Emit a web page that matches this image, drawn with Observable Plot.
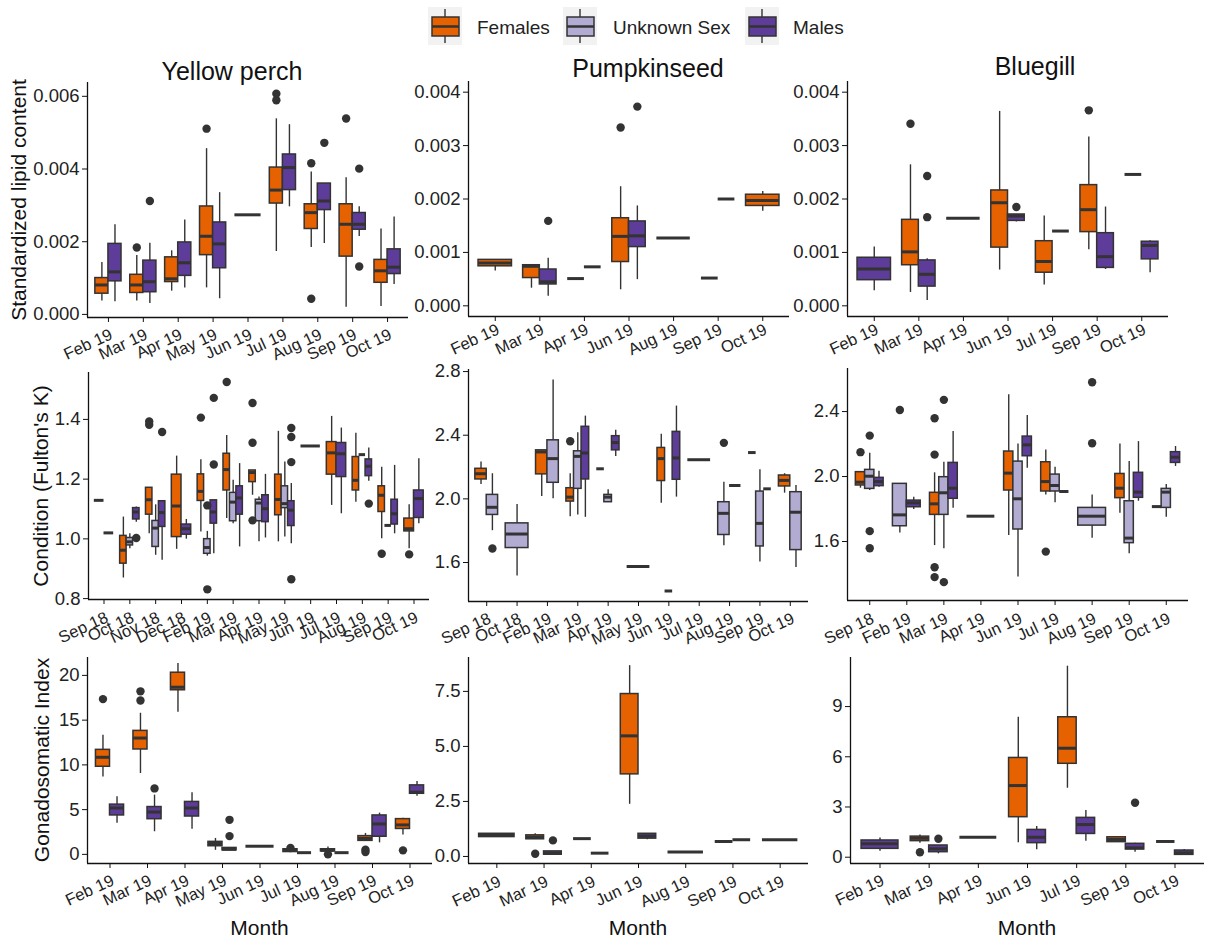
<!DOCTYPE html>
<html><head><meta charset="utf-8">
<script src="https://cdn.jsdelivr.net/npm/d3@7"></script>
<script src="https://cdn.jsdelivr.net/npm/@observablehq/plot@0.6"></script>
<style>
body{margin:0;background:#fff;}
#root{position:relative;width:1207px;height:939px;font-family:"Liberation Sans",Arial,sans-serif;color:#222;overflow:hidden;background:#fff;}
.abs{position:absolute;white-space:nowrap;line-height:1;}
.c{transform:translate(-50%,-50%);}
.rot{transform:translate(-50%,-50%) rotate(-90deg);}
.panel{position:absolute;}
</style></head><body><div id="root"></div>
<script>
// ---------------- data ----------------
const sexes = ["F","U","M"];
const sexLabels = ["Females","Unknown Sex","Males"];
const sexColors = ["#E66100","#B2ABD2","#5E3C99"];
const species = ["Yellow perch","Pumpkinseed","Bluegill"];
const rowLabels = ["Standardized lipid content","Condition (Fulton's K)","Gonadosomatic Index"];
const xLabel = "Month";

// box stats: [month, sex, lowerWhisker, q1, median, q3, upperWhisker, outliers]
const ypLipidMonths = ["Feb 19","Mar 19","Apr 19","May 19","Jun 19","Jul 19","Aug 19","Sep 19","Oct 19"];
const ypLipid = [
  ["Feb 19","F",0.00037,0.00057,0.00081,0.00100,0.00143,[]],
  ["Feb 19","M",0.00035,0.00091,0.00117,0.00194,0.00247,[]],
  ["Mar 19","F",0.00037,0.00059,0.00081,0.00109,0.00162,[0.00184]],
  ["Mar 19","M",0.00030,0.00061,0.00090,0.00148,0.00196,[0.00312]],
  ["Apr 19","F",0.00064,0.00089,0.00098,0.00157,0.00175,[]],
  ["Apr 19","M",0.00073,0.00106,0.00142,0.00198,0.00260,[]],
  ["May 19","F",0.00073,0.00163,0.00215,0.00297,0.00456,[0.00511]],
  ["May 19","M",0.00043,0.00127,0.00194,0.00253,0.00335,[]],
  ["Jun 19","F",0.00274,0.00274,0.00274,0.00274,0.00274,[]],
  ["Jul 19","F",0.00173,0.00305,0.00342,0.00404,0.00538,[0.00607,0.00589]],
  ["Jul 19","M",0.00296,0.00342,0.00404,0.00440,0.00522,[]],
  ["Aug 19","F",0.00184,0.00235,0.00280,0.00303,0.00392,[0.00416,0.00043]],
  ["Aug 19","M",0.00195,0.00287,0.00312,0.00360,0.00360,[0.00472]],
  ["Sep 19","F",0.00020,0.00159,0.00248,0.00303,0.00376,[0.00539]],
  ["Sep 19","M",0.00214,0.00233,0.00248,0.00279,0.00296,[0.00401,0.00132]],
  ["Oct 19","F",0.00022,0.00087,0.00120,0.00150,0.00235,[]],
  ["Oct 19","M",0.00082,0.00111,0.00130,0.00179,0.00268,[]]
];
const psLipidMonths = ["Feb 19","Mar 19","Apr 19","Jun 19","Aug 19","Sep 19","Oct 19"];
const psLipid = [
  ["Feb 19","F",0.00065,0.00074,0.00080,0.00086,0.00086,[]],
  ["Mar 19","F",0.00033,0.00052,0.00074,0.00076,0.00076,[]],
  ["Mar 19","M",0.00018,0.00040,0.00045,0.00068,0.00089,[0.00159]],
  ["Apr 19","F",0.00051,0.00051,0.00051,0.00051,0.00051,[]],
  ["Apr 19","M",0.00073,0.00073,0.00073,0.00073,0.00073,[]],
  ["Jun 19","F",0.00030,0.00082,0.00130,0.00164,0.00223,[0.00334]],
  ["Jun 19","M",0.00049,0.00110,0.00131,0.00158,0.00187,[0.00373]],
  ["Aug 19","F",0.00127,0.00127,0.00127,0.00127,0.00127,[]],
  ["Sep 19","F",0.00052,0.00052,0.00052,0.00052,0.00052,[]],
  ["Sep 19","M",0.00200,0.00200,0.00200,0.00200,0.00200,[]],
  ["Oct 19","F",0.00177,0.00187,0.00197,0.00208,0.00214,[]]
];
const bgLipidMonths = ["Feb 19","Mar 19","Apr 19","Jun 19","Jul 19","Sep 19","Oct 19"];
const bgLipid = [
  ["Feb 19","M",0.00028,0.00048,0.00069,0.00090,0.00110,[]],
  ["Mar 19","F",0.00025,0.00076,0.00101,0.00161,0.00264,[0.00341]],
  ["Mar 19","M",0.00010,0.00036,0.00059,0.00085,0.00088,[0.00243,0.00166]],
  ["Apr 19","F",0.00164,0.00164,0.00164,0.00164,0.00164,[]],
  ["Jun 19","F",0.00067,0.00109,0.00193,0.00216,0.00364,[]],
  ["Jun 19","M",0.00157,0.00159,0.00168,0.00171,0.00171,[0.00185]],
  ["Jul 19","F",0.00039,0.00062,0.00083,0.00121,0.00168,[]],
  ["Jul 19","M",0.00140,0.00140,0.00140,0.00140,0.00140,[]],
  ["Sep 19","F",0.00105,0.00138,0.00180,0.00226,0.00316,[0.00366]],
  ["Sep 19","M",0.00068,0.00071,0.00092,0.00136,0.00185,[]],
  ["Oct 19","F",0.00246,0.00246,0.00246,0.00246,0.00246,[]],
  ["Oct 19","M",0.00062,0.00087,0.00113,0.00120,0.00122,[]]
];
const ypCondMonths = ["Sep 18","Oct 18","Nov 18","Dec 18","Feb 19","Mar 19","Apr 19","May 19","Jun 19","Jul 19","Aug 19","Sep 19","Oct 19"];
const ypCond = [
  ["Sep 18","F",1.129,1.129,1.129,1.129,1.129,[]],
  ["Sep 18","M",1.020,1.020,1.020,1.020,1.020,[]],
  ["Oct 18","F",0.869,0.917,0.962,1.010,1.073,[]],
  ["Oct 18","U",0.967,0.978,0.990,1.003,1.017,[]],
  ["Oct 18","M",1.056,1.065,1.090,1.103,1.107,[1.003]],
  ["Nov 18","F",1.017,1.081,1.131,1.171,1.171,[1.393,1.382]],
  ["Nov 18","U",0.945,0.973,1.036,1.060,1.114,[]],
  ["Nov 18","M",0.928,1.040,1.088,1.126,1.126,[1.358]],
  ["Dec 18","F",0.965,1.006,1.110,1.215,1.277,[]],
  ["Dec 18","M",0.999,1.014,1.034,1.048,1.065,[]],
  ["Feb 19","F",1.023,1.127,1.159,1.216,1.265,[1.406]],
  ["Feb 19","U",0.942,0.950,0.971,0.999,1.025,[1.112,0.831]],
  ["Feb 19","M",0.950,1.051,1.090,1.129,1.129,[1.249,1.472]],
  ["Mar 19","F",1.068,1.162,1.232,1.285,1.346,[1.525]],
  ["Mar 19","U",1.051,1.059,1.123,1.154,1.196,[]],
  ["Mar 19","M",0.973,1.081,1.137,1.176,1.252,[]],
  ["Apr 19","F",1.146,1.190,1.222,1.229,1.229,[1.455,1.322,1.062]],
  ["Apr 19","U",0.990,1.059,1.120,1.131,1.140,[]],
  ["Apr 19","M",1.003,1.056,1.101,1.146,1.216,[]],
  ["May 19","F",0.990,1.079,1.132,1.215,1.360,[]],
  ["May 19","U",1.006,1.103,1.118,1.176,1.257,[]],
  ["May 19","M",0.984,1.043,1.096,1.126,1.185,[1.371,1.341,1.257,0.865]],
  ["Jun 19","F",1.311,1.311,1.311,1.311,1.311,[]],
  ["Jul 19","F",1.112,1.215,1.288,1.324,1.410,[]],
  ["Jul 19","M",1.084,1.207,1.285,1.321,1.371,[]],
  ["Aug 19","F",1.123,1.162,1.196,1.274,1.354,[]],
  ["Aug 19","U",1.282,1.282,1.282,1.282,1.282,[]],
  ["Aug 19","M",1.193,1.210,1.243,1.266,1.304,[1.118]],
  ["Sep 19","F",1.000,1.090,1.146,1.176,1.240,[0.950]],
  ["Sep 19","U",1.045,1.045,1.045,1.045,1.045,[]],
  ["Sep 19","M",1.017,1.048,1.084,1.131,1.246,[]],
  ["Oct 19","F",0.967,1.025,1.034,1.068,1.114,[0.948]],
  ["Oct 19","M",1.051,1.070,1.135,1.162,1.268,[]]
];
const psCondMonths = ["Sep 18","Oct 18","Feb 19","Mar 19","Apr 19","May 19","Jun 19","Jul 19","Aug 19","Sep 19","Oct 19"];
const psCond = [
  ["Sep 18","F",2.091,2.122,2.158,2.189,2.232,[]],
  ["Sep 18","U",1.800,1.899,1.947,2.025,2.158,[1.688]],
  ["Oct 18","U",1.516,1.691,1.779,1.846,1.964,[]],
  ["Feb 19","F",2.015,2.154,2.295,2.305,2.305,[]],
  ["Feb 19","U",2.000,2.101,2.253,2.368,2.747,[]],
  ["Mar 19","F",1.888,1.983,2.011,2.067,2.158,[2.362]],
  ["Mar 19","U",1.899,2.063,2.267,2.299,2.415,[]],
  ["Mar 19","M",1.884,2.122,2.288,2.453,2.520,[]],
  ["Apr 19","F",2.189,2.189,2.189,2.189,2.189,[]],
  ["Apr 19","U",1.979,1.979,2.011,2.025,2.057,[]],
  ["Apr 19","M",2.267,2.305,2.354,2.394,2.432,[]],
  ["May 19","U",1.575,1.575,1.575,1.575,1.575,[]],
  ["Jun 19","F",1.973,2.112,2.253,2.320,2.406,[]],
  ["Jun 19","U",1.421,1.421,1.421,1.421,1.421,[]],
  ["Jun 19","M",2.011,2.120,2.257,2.421,2.583,[]],
  ["Jul 19","M",2.246,2.246,2.246,2.246,2.246,[]],
  ["Aug 19","U",1.705,1.773,1.909,1.979,2.105,[2.352]],
  ["Aug 19","M",2.084,2.084,2.084,2.084,2.084,[]],
  ["Sep 19","F",2.291,2.291,2.291,2.291,2.291,[]],
  ["Sep 19","U",1.604,1.701,1.846,2.046,2.183,[]],
  ["Sep 19","M",2.063,2.063,2.063,2.063,2.063,[]],
  ["Oct 19","F",2.036,2.078,2.116,2.147,2.158,[]],
  ["Oct 19","U",1.568,1.678,1.916,2.042,2.084,[]]
];
const bgCondMonths = ["Sep 18","Feb 19","Mar 19","Apr 19","Jun 19","Jul 19","Aug 19","Sep 19","Oct 19"];
const bgCond = [
  ["Sep 18","F",1.928,1.945,1.965,2.027,2.027,[2.150]],
  ["Sep 18","U",1.914,1.924,2.002,2.041,2.144,[2.252,1.664,1.559]],
  ["Sep 18","M",1.934,1.941,1.969,1.992,2.033,[]],
  ["Feb 19","U",1.653,1.694,1.764,1.955,1.955,[2.410]],
  ["Feb 19","M",1.797,1.811,1.838,1.852,1.873,[]],
  ["Mar 19","F",1.575,1.764,1.832,1.900,2.023,[2.359,2.135,1.442,1.381]],
  ["Mar 19","U",1.555,1.764,1.900,1.996,2.088,[2.472,1.350]],
  ["Mar 19","M",1.805,1.863,1.928,2.084,2.277,[]],
  ["Apr 19","U",1.756,1.756,1.756,1.756,1.756,[]],
  ["Jun 19","F",1.637,1.914,2.021,2.154,2.503,[]],
  ["Jun 19","U",1.381,1.674,1.863,2.092,2.201,[]],
  ["Jun 19","M",2.051,2.125,2.195,2.246,2.375,[]],
  ["Jul 19","F",1.887,1.908,1.969,2.088,2.164,[1.538]],
  ["Jul 19","U",1.838,1.908,1.945,2.012,2.057,[]],
  ["Jul 19","M",1.908,1.908,1.908,1.908,1.908,[]],
  ["Aug 19","U",1.620,1.698,1.756,1.807,1.887,[2.580,2.205]],
  ["Sep 19","F",1.774,1.867,1.928,2.016,2.201,[]],
  ["Sep 19","U",1.524,1.590,1.621,1.848,2.092,[]],
  ["Sep 19","M",1.848,1.869,1.904,2.023,2.215,[]],
  ["Oct 19","F",1.815,1.815,1.815,1.815,1.815,[]],
  ["Oct 19","U",1.750,1.807,1.904,1.924,1.951,[]],
  ["Oct 19","M",2.062,2.084,2.119,2.150,2.185,[]]
];
const ypGsiMonths = ["Feb 19","Mar 19","Apr 19","May 19","Jun 19","Jul 19","Aug 19","Sep 19","Oct 19"];
const ypGsi = [
  ["Feb 19","F",8.66,9.79,10.85,11.68,13.30,[17.35]],
  ["Feb 19","M",3.48,4.35,5.18,5.56,6.43,[]],
  ["Mar 19","F",9.04,11.72,13.00,13.80,15.77,[18.22,17.20]],
  ["Mar 19","M",2.53,3.93,4.73,5.29,6.62,[7.37]],
  ["Apr 19","F",15.88,18.34,18.68,20.30,21.32,[]],
  ["Apr 19","M",2.80,4.23,5.18,5.86,6.88,[]],
  ["May 19","F",0.45,0.91,1.21,1.40,1.78,[]],
  ["May 19","M",0.45,0.45,0.57,0.72,0.72,[3.86,2.04]],
  ["Jun 19","F",0.91,0.91,0.91,0.91,0.91,[]],
  ["Jul 19","F",0.26,0.26,0.45,0.57,0.57,[0.72]],
  ["Jul 19","M",0.19,0.19,0.19,0.19,0.19,[]],
  ["Aug 19","F",0.34,0.34,0.45,0.57,0.83,[0.00]],
  ["Aug 19","M",0.19,0.19,0.19,0.19,0.19,[]],
  ["Sep 19","F",1.51,1.51,1.78,2.04,2.34,[0.53,0.26]],
  ["Sep 19","M",1.29,1.97,3.40,4.35,4.61,[]],
  ["Oct 19","F",2.16,2.84,3.29,3.94,4.05,[0.45]],
  ["Oct 19","M",6.50,6.77,6.95,7.71,8.13,[]]
];
const psGsiMonths = ["Feb 19","Mar 19","Apr 19","Jun 19","Aug 19","Sep 19","Oct 19"];
const psGsi = [
  ["Feb 19","F",0.88,0.88,0.96,1.03,1.03,[]],
  ["Mar 19","F",0.78,0.78,0.88,0.96,1.03,[0.12]],
  ["Mar 19","M",0.08,0.08,0.15,0.23,0.23,[0.73]],
  ["Apr 19","F",0.81,0.81,0.81,0.81,0.81,[]],
  ["Apr 19","M",0.15,0.15,0.15,0.15,0.15,[]],
  ["Jun 19","F",2.37,3.73,5.48,7.38,8.67,[]],
  ["Jun 19","M",0.76,0.81,0.93,1.03,1.03,[]],
  ["Aug 19","F",0.20,0.20,0.20,0.20,0.20,[]],
  ["Sep 19","F",0.68,0.68,0.68,0.68,0.68,[]],
  ["Sep 19","M",0.76,0.76,0.76,0.76,0.76,[]],
  ["Oct 19","F",0.76,0.76,0.76,0.76,0.76,[]]
];
const bgGsiMonths = ["Feb 19","Mar 19","Apr 19","Jun 19","Jul 19","Sep 19","Oct 19"];
const bgGsi = [
  ["Feb 19","M",0.36,0.50,0.80,1.00,1.15,[]],
  ["Mar 19","F",0.84,0.96,1.13,1.23,1.33,[0.30]],
  ["Mar 19","M",0.20,0.30,0.50,0.70,0.70,[1.10]],
  ["Apr 19","F",1.19,1.19,1.19,1.19,1.19,[]],
  ["Jun 19","F",0.86,2.39,4.28,5.93,8.36,[]],
  ["Jun 19","M",0.44,0.84,1.19,1.63,1.83,[]],
  ["Jul 19","F",4.12,5.58,6.51,8.36,11.41,[]],
  ["Jul 19","M",0.96,1.39,1.95,2.35,2.79,[]],
  ["Sep 19","F",0.90,0.90,1.06,1.19,1.19,[]],
  ["Sep 19","M",0.30,0.46,0.56,0.80,0.84,[3.25]],
  ["Oct 19","F",0.94,0.94,0.94,0.94,0.94,[]],
  ["Oct 19","M",0.14,0.14,0.26,0.40,0.46,[]]
];
// y-axis ticks per panel
const lipidTicksYP = [0,0.002,0.004,0.006];
const lipidTicks = [0,0.001,0.002,0.003,0.004];
const condTicksYP = [0.8,1.0,1.2,1.4];
const condTicksPS = [1.6,2.0,2.4,2.8];
const condTicksBG = [1.6,2.0,2.4];
const gsiTicksYP = [0,5,10,15,20];
const gsiTicksPS = [0,2.5,5,7.5];
const gsiTicksBG = [0,3,6,9];

// ---------------- layout ----------------
const panels = [
  {months:ypLipidMonths, rows:ypLipid, yDomain:[-0.000085,0.00638], ticks:lipidTicksYP, fmt:d3.format(".3f"), f:{x0:87,x1:408,y0:82,y1:317}, ldy:9},
  {months:psLipidMonths, rows:psLipid, yDomain:[-0.0002,0.0042], ticks:lipidTicks, fmt:d3.format(".3f"), f:{x0:468,x1:789,y0:81,y1:316}, ldy:5},
  {months:bgLipidMonths, rows:bgLipid, yDomain:[-0.0002,0.0042], ticks:lipidTicks, fmt:d3.format(".3f"), f:{x0:847,x1:1168,y0:81,y1:316}, ldy:5},
  {months:ypCondMonths, rows:ypCond, yDomain:[0.797,1.557], ticks:condTicksYP, fmt:d3.format(".1f"), f:{x0:88,x1:429,y0:372,y1:599}, ldy:10},
  {months:psCondMonths, rows:psCond, yDomain:[1.355,2.813], ticks:condTicksPS, fmt:d3.format(".1f"), f:{x0:468,x1:808,y0:369,y1:601}, ldy:9},
  {months:bgCondMonths, rows:bgCond, yDomain:[1.237,2.665], ticks:condTicksBG, fmt:d3.format(".1f"), f:{x0:847,x1:1188,y0:368,y1:600}, ldy:10},
  {months:ypGsiMonths, rows:ypGsi, yDomain:[-1.02,22.0], ticks:gsiTicksYP, fmt:d3.format("d"), f:{x0:87,x1:432,y0:657,y1:863}, ldy:9},
  {months:psGsiMonths, rows:psGsi, yDomain:[-0.32,9.04], ticks:gsiTicksPS, fmt:d3.format(".1f"), f:{x0:468,x1:808,y0:657,y1:863}, ldy:10},
  {months:bgGsiMonths, rows:bgGsi, yDomain:[-0.376,11.93], ticks:gsiTicksBG, fmt:d3.format("d"), f:{x0:850,x1:1204,y0:657,y1:863}, ldy:9}
];
const FONT = '"Liberation Sans", Arial, sans-serif';
const INK = "#333333";
const root = document.getElementById("root");

function addText(txt, x, y, size, cls) {
  const d = document.createElement("div");
  d.className = "abs " + cls;
  d.style.left = x + "px"; d.style.top = y + "px";
  d.style.fontSize = size + "px";
  d.textContent = txt;
  root.appendChild(d);
  return d;
}

function drawPanel(p) {
  const n = p.months.length;
  const recs = p.rows.map(r => ({month:r[0], sex:r[1], lo:r[2], q1:r[3], med:r[4], q3:r[5], hi:r[6], out:r[7]}));
  for (const [m, arr] of d3.group(recs, d => d.month)) {
    arr.sort((a, b) => sexes.indexOf(a.sex) - sexes.indexOf(b.sex));
    const i = p.months.indexOf(m) + 1, w = 0.75 / arr.length;
    arr.forEach((d, k) => { d.x1 = i - 0.375 + k * w; d.x2 = d.x1 + w; d.xc = (d.x1 + d.x2) / 2; });
  }
  const outs = recs.flatMap(d => d.out.map(v => ({xc: d.xc, v})));
  const mL = 80, mR = 12, mT = 10, mB = 80;
  const W = p.f.x1 - p.f.x0 + mL + mR, H = p.f.y1 - p.f.y0 + mT + mB;
  const svg = Plot.plot({
    width: W, height: H, marginLeft: mL, marginRight: mR, marginTop: mT, marginBottom: mB,
    style: {background: "transparent", overflow: "visible", fontFamily: FONT, fontSize: "18.5px", color: "#222", maxWidth: "none"},
    x: {domain: [0.4, n + 0.6]},
    y: {domain: p.yDomain},
    color: {domain: sexes, range: sexColors},
    marks: [
      Plot.ruleX(recs, {x: "xc", y1: "lo", y2: "hi", stroke: INK, strokeWidth: 1.4}),
      Plot.rect(recs, {x1: "x1", x2: "x2", y1: "q1", y2: "q3", fill: "sex", stroke: INK, strokeWidth: 1.5}),
      Plot.ruleY(recs, {y: "med", x1: "x1", x2: "x2", stroke: INK, strokeWidth: 3}),
      Plot.dot(outs, {x: "xc", y: "v", r: 4.2, fill: INK, stroke: "none"}),
      Plot.ruleX([0.4], {stroke: "#111", strokeWidth: 1.3}),
      Plot.ruleY([p.yDomain[0]], {stroke: "#111", strokeWidth: 1.3}),
      Plot.axisX({ticks: d3.range(1, n + 1), tickSize: 5, text: null, stroke: "#111", label: null}),
      Plot.axisX({ticks: d3.range(1, n + 1), tickFormat: i => p.months[i - 1], tickRotate: -25, tickSize: 0, tickPadding: 7,
        label: null, fontSize: 16.5, dx: 3, dy: p.ldy}),
      Plot.axisY({ticks: p.ticks, tickFormat: p.fmt, tickSize: 5, tickPadding: 3, label: null, stroke: "#111"})
    ]
  });
  const holder = document.createElement("div");
  holder.className = "panel";
  holder.style.left = (p.f.x0 - mL) + "px";
  holder.style.top = (p.f.y0 - mT) + "px";
  holder.appendChild(svg);
  root.appendChild(holder);
}
panels.forEach(drawPanel);

// titles
const titlePos = [[232, 71], [648, 68], [1035, 66]];
species.forEach((s, i) => addText(s, titlePos[i][0], titlePos[i][1], 25, "c").style.color = "#111");
// row labels
[[18, panels[0]], [40, panels[3]], [41, panels[6]]].forEach(([x, p], i) =>
  addText(rowLabels[i], x, (p.f.y0 + p.f.y1) / 2, 21, "rot").style.color = "#111");
// month labels
[6, 7, 8].forEach(k => addText(xLabel, (panels[k].f.x0 + panels[k].f.x1) / 2, 927, 21, "c").style.color = "#111");

// legend
const legendKeys = [428, 563, 745];
const legendText = [477, 613, 793];
sexes.forEach((s, i) => {
  const ns = "http://www.w3.org/2000/svg";
  const svg = document.createElementNS(ns, "svg");
  svg.setAttribute("width", 34); svg.setAttribute("height", 38);
  svg.style.position = "absolute"; svg.style.left = legendKeys[i] + "px"; svg.style.top = "7px";
  const add = (tag, attrs) => { const e = document.createElementNS(ns, tag); for (const k in attrs) e.setAttribute(k, attrs[k]); svg.appendChild(e); };
  add("rect", {x: 0, y: 0, width: 34, height: 38, fill: "#F2F2F2"});
  add("line", {x1: 17, x2: 17, y1: 2, y2: 36, stroke: INK, "stroke-width": 1.4});
  add("rect", {x: 4, y: 10, width: 27, height: 19, fill: sexColors[i], stroke: INK, "stroke-width": 1.5});
  add("line", {x1: 4, x2: 31, y1: 19.5, y2: 19.5, stroke: INK, "stroke-width": 2.5});
  root.appendChild(svg);
  addText(sexLabels[i], legendText[i], 27, 19, "").style.transform = "translate(0,-50%)";
});
</script></body></html>
